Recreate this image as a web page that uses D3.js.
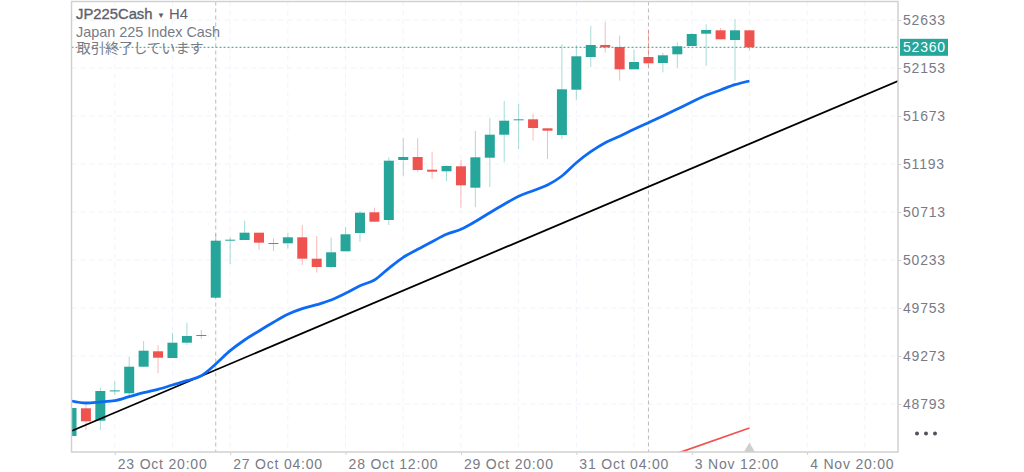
<!DOCTYPE html>
<html>
<head>
<meta charset="utf-8">
<script src="https://cdn.jsdelivr.net/npm/d3@7/dist/d3.min.js"></script>
<style>
  html, body { margin: 0; padding: 0; background: #fff; }
  text { font-family: "Liberation Sans", sans-serif; }
</style>
</head>
<body>
<div id="chart"></div>
<script>
// candles, one per 4h bar
var opens  = [48473,48750,48626,48923,48900,49166,49320,49253,49406,49477,49856,50430,50433,50506,50397,50400,50460,50246,50163,50320,50503,50710,50633,51233,51263,51136,51120,51170,50956,51256,51486,51633,51640,51550,51483,51936,52263,52383,52363,52140,52263,52203,52290,52373,52496,52530,52433,52530];
var highs  = [48753,48783,48956,49020,49266,49423,49380,49506,49606,49533,50493,50460,50626,50506,50450,50506,50583,50473,50456,50560,50723,50756,51260,51450,51450,51316,51183,51233,51523,51653,51823,51793,51696,51550,52390,52383,52573,52616,52476,52333,52533,52306,52410,52503,52590,52553,52643,52530];
var lows   = [48473,48533,48533,48883,48873,49166,49100,49253,49383,49446,49856,50193,50433,50333,50323,50346,50183,50106,50150,50320,50416,50616,50583,51076,51110,51043,51023,50753,50763,50963,51210,51343,51426,51243,51443,51833,52163,52306,52026,52140,52160,52110,52156,52373,52173,52440,52026,52326];
var closes = [48753,48620,48923,48929,49166,49326,49256,49406,49473,49483,50426,50436,50506,50406,50403,50460,50246,50163,50310,50490,50706,50616,51226,51263,51133,51116,51173,50980,51260,51486,51626,51640,51553,51526,51940,52270,52383,52360,52140,52213,52200,52280,52370,52493,52533,52440,52530,52360];
var maValues = [48823,48803,48813,48826,48866,48906,48940,48983,49026,49076,49193,49326,49433,49523,49610,49690,49746,49786,49833,49900,49976,50033,50150,50260,50340,50416,50490,50540,50618,50706,50790,50870,50926,50983,51073,51206,51316,51406,51470,51540,51606,51673,51743,51813,51880,51933,51986,52023];

var priceTicks = [52633,52153,51673,51193,50713,50233,49753,49273,48793];
var lastPrice = 52360;

var timeTickBars = [3,11,19,27,35,43,51];
var timeTickLabels = ["23 Oct 20:00","27 Oct 04:00","28 Oct 12:00","29 Oct 20:00","31 Oct 04:00","3 Nov 12:00","4 Nov 20:00"];
var gridBars = [3,7,11,15,19,23,27,31,35,39,43,47,51,55];
var sessionBars = [10,40];

var trendBars = [0,57.3];
var trendPrices = [48523,52023];
var redLineBars = [42,47];
var redLinePrices = [48300,48553];

var teal = "#26a69a", red = "#ef5350", labelColor = "#787b86";
var width = 1024, height = 472;
var left = 71.5, right = 898, top_ = 1.5, bottom = 452;

var x = d3.scaleLinear().domain([0,57.3]).range([left,right]);
var y = d3.scaleLinear().domain([52633,48793]).range([20,404]);

var svg = d3.select("#chart").append("svg")
  .attr("width",width).attr("height",height)
  .style("display","block");

svg.append("clipPath").attr("id","plot").append("rect")
  .attr("x",left).attr("y",top_).attr("width",right-left).attr("height",bottom-top_);

// grid
svg.append("g").selectAll("line").data(priceTicks).enter().append("line")
  .attr("x1",left).attr("x2",right)
  .attr("y1",d => y(d)).attr("y2",d => y(d))
  .attr("stroke","#f0f3fa").attr("stroke-dasharray","5 4");
svg.append("g").selectAll("line").data(gridBars).enter().append("line")
  .attr("x1",d => x(d)).attr("x2",d => x(d))
  .attr("y1",top_).attr("y2",bottom)
  .attr("stroke","#f0f3fa").attr("stroke-dasharray","5 4");

// session breaks
svg.append("g").selectAll("line").data(sessionBars).enter().append("line")
  .attr("x1",d => x(d)).attr("x2",d => x(d))
  .attr("y1",top_).attr("y2",bottom)
  .attr("stroke","#bcbcbc").attr("stroke-width",1).attr("stroke-dasharray","4 3");

// labels under the price line
var legend = svg.append("g");
legend.append("text").attr("x",76).attr("y",18.5)
  .attr("font-size",14.8).attr("fill","#5d606b")
  .attr("stroke","#5d606b").attr("stroke-width",0.35)
  .text("JP225Cash");
legend.append("text").attr("x",157).attr("y",17.5)
  .attr("font-size",8).attr("fill","#5d606b").text("▼");
legend.append("text").attr("x",169).attr("y",18.5)
  .attr("font-size",14.8).attr("fill","#5d606b").text("H4");
legend.append("text").attr("x",76).attr("y",36.5)
  .attr("font-size",14.4).attr("fill",labelColor).text("Japan 225 Index Cash");
legend.append("text").attr("x",76.5).attr("y",52.5)
  .attr("font-size",14.2).attr("fill",labelColor)
  .style("font-family",'"Noto Sans CJK JP"').text("取引終了しています");

// marks
var plot = svg.append("g").attr("clip-path","url(#plot)");
var idx = d3.range(opens.length);
var colorOf = i => closes[i] >= opens[i] ? teal : red;

plot.append("g").selectAll("line").data(idx).enter().append("line")
  .attr("x1",i => x(i)).attr("x2",i => x(i))
  .attr("y1",i => y(highs[i])).attr("y2",i => y(lows[i]))
  .attr("stroke",colorOf).attr("stroke-opacity",0.4);

plot.append("g").selectAll("rect").data(idx).enter().append("rect")
  .attr("x",i => x(i)-5).attr("width",10)
  .attr("y",i => y(Math.max(opens[i],closes[i])))
  .attr("height",i => Math.max(1,Math.abs(y(opens[i])-y(closes[i]))))
  .attr("fill",colorOf);

var line = d3.line().x(d => x(d[0])).y(d => y(d[1]));

plot.append("path").datum(d3.zip(trendBars,trendPrices))
  .attr("d",line).attr("fill","none").attr("stroke","#000").attr("stroke-width",1.8);

plot.append("path").datum(d3.zip(idx,maValues))
  .attr("d",line.curve(d3.curveMonotoneX)).attr("fill","none")
  .attr("stroke","#0d6af5").attr("stroke-width",2.8);
line.curve(d3.curveLinear);

plot.append("path").datum(d3.zip(redLineBars,redLinePrices))
  .attr("d",line).attr("fill","none").attr("stroke",red).attr("stroke-width",1.8);

// marker at the last bar
plot.append("path")
  .attr("transform","translate("+x(47)+",0)")
  .attr("d","M0,442.5L5.5,452L-5.5,452Z").attr("fill","#cfcfcf");

// last price line
svg.append("line")
  .attr("x1",left).attr("x2",right)
  .attr("y1",y(lastPrice)).attr("y2",y(lastPrice))
  .attr("stroke",teal).attr("stroke-dasharray","2 2");

// frame
svg.append("rect").attr("x",left).attr("y",top_)
  .attr("width",right-left).attr("height",bottom-top_)
  .attr("fill","none").attr("stroke","#d1d1d1").attr("stroke-width",1.5);

// axes
var yAxis = svg.append("g").attr("transform","translate("+right+",0)")
  .call(d3.axisRight(y).tickValues(priceTicks).tickFormat(d3.format("d")).tickSize(3).tickPadding(2));
var xAxis = svg.append("g").attr("transform","translate(0,"+bottom+")")
  .call(d3.axisBottom(x).tickValues(timeTickBars).tickFormat((d,i) => timeTickLabels[i]).tickSize(3));
yAxis.select(".domain").remove();
xAxis.select(".domain").remove();
yAxis.selectAll("line").attr("stroke","#d1d1d1");
xAxis.selectAll("line").attr("stroke","#d1d1d1");
yAxis.selectAll("text").attr("font-size",14).attr("fill",labelColor)
  .style("letter-spacing","0.8px").style("font-family",'"Liberation Sans"');
xAxis.selectAll("text").attr("font-size",14).attr("fill",labelColor)
  .attr("text-anchor","start").attr("x",2.5).attr("y",4).attr("dy","0.9em")
  .style("letter-spacing","0.8px").style("font-family",'"Liberation Sans"');

// last price tag
svg.append("rect").attr("x",900).attr("y",y(lastPrice)-8.5)
  .attr("width",48).attr("height",17).attr("fill",teal);
svg.append("text").attr("x",903).attr("y",y(lastPrice)+5)
  .attr("font-size",14).attr("fill","#fff").style("letter-spacing","0.8px")
  .text(lastPrice);

// menu dots
svg.append("g").selectAll("circle").data([917,926,935]).enter().append("circle")
  .attr("cx",d => d).attr("cy",433.5).attr("r",2).attr("fill","#50535e");
</script>
</body>
</html>
